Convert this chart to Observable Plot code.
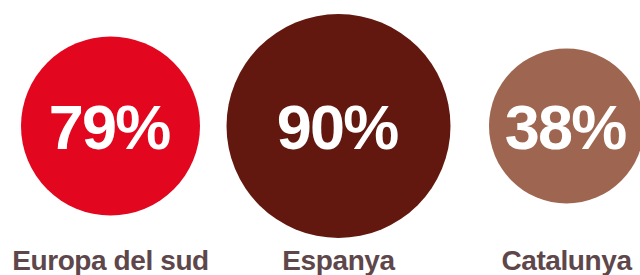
<!DOCTYPE html>
<html>
<head>
<meta charset="utf-8">
<script src="https://cdn.jsdelivr.net/npm/d3@7"></script>
<script src="https://cdn.jsdelivr.net/npm/@observablehq/plot@0.6"></script>
<style>
  html, body { margin: 0; padding: 0; background: #fff; overflow: hidden; }
  #chart svg { display: block; }
</style>
</head>
<body>
<div id="chart"></div>
<script>
const regions = ["Europa del sud", "Espanya", "Catalunya"];
const values = [79, 90, 38];
const colors = ["#e2071f", "#62180f", "#9e6650"];

const data = regions.map((r, i) => ({region: r, value: values[i], color: colors[i]}));

const chart = Plot.plot({
  width: 640,
  height: 275,
  marginLeft: 109.5,
  marginRight: 74.5,
  marginTop: 0,
  marginBottom: 24,
  x: {type: "point", domain: regions, padding: 0, axis: null},
  r: {type: "linear", domain: [38, 79, 90], range: [77.5, 89.5, 112]},
  marks: [
    Plot.dot(data, {x: "region", r: "value", fill: "color", stroke: null}),
    Plot.text(data, {
      x: "region",
      text: d => `${d.value}%`,
      fill: "white",
      fontSize: 63,
      fontWeight: "bold",
      fontFamily: "Liberation Sans, Arial, sans-serif",
      lineAnchor: "middle",
      dy: 3,
      dx: -1.5
    }),
    Plot.text(data, {
      x: "region",
      text: "region",
      frameAnchor: "bottom",
      lineAnchor: "bottom",
      dy: 18,
      fill: "#5e474b",
      fontSize: 28,
      fontWeight: "bold",
      fontFamily: "Liberation Sans, Arial, sans-serif"
    })
  ]
});
chart.querySelectorAll("text").forEach(t => {
  if (t.textContent.endsWith("%")) t.setAttribute("letter-spacing", "-1.8");
  else t.setAttribute("letter-spacing", "-0.4");
});
document.getElementById("chart").appendChild(chart);
</script>
</body>
</html>
